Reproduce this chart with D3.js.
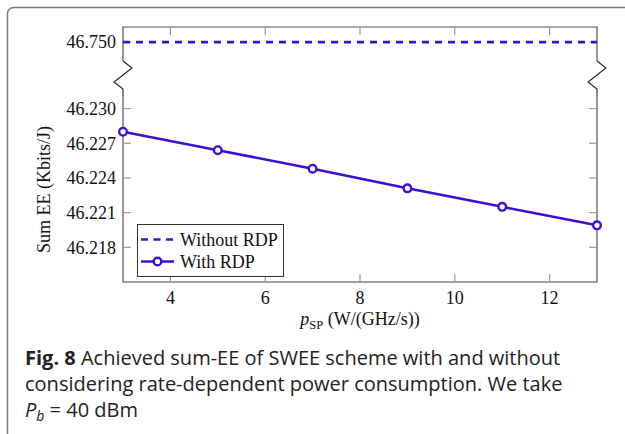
<!DOCTYPE html>
<html>
<head>
<meta charset="utf-8">
<script src="https://cdn.jsdelivr.net/npm/d3@7"></script>
<style>
  html, body { margin: 0; padding: 0; background: #fff; }
  svg { display: block; }
  .serif { font-family: "Liberation Serif", "Times New Roman", serif; font-size: 18px; fill: #111; }
  .cap { font-family: "Open Sans", "Noto Sans", sans-serif; font-size: 20px; fill: #222; }
</style>
</head>
<body>
<svg id="chart" width="625" height="434"></svg>
<script>
// p_SP values (W/(GHz/s))
const pSP = [3, 5, 7, 9, 11, 13];
// Sum EE (Kbits/J)
const withRDP = [46.2280, 46.2264, 46.2248, 46.2231, 46.2215, 46.2199];
const withoutRDP = [46.750, 46.750, 46.750, 46.750, 46.750, 46.750];
const seriesNames = ["Without RDP", "With RDP"];
const xTicks = [4, 6, 8, 10, 12];
const yTicksLower = [46.218, 46.221, 46.224, 46.227, 46.230];
const yTicksUpper = [46.750];
const captionLines = [
  "Achieved sum-EE of SWEE scheme with and without",
  "considering rate-dependent power consumption. We take"
];

const svg = d3.select("#chart");
const lineColor = "#3a10d4";
const axisColor = "#808080";

// Outer panel frame
svg.append("rect")
  .attr("x", 7.5).attr("y", 7.5)
  .attr("width", 700).attr("height", 500)
  .attr("rx", 6)
  .attr("fill", "none").attr("stroke", "#7a7a7a").attr("stroke-width", 1.5);

const left = 123, right = 597;
const upperTop = 27, upperBottom = 61;
const lowerTop = 97, lowerBottom = 282;

const x = d3.scaleLinear().domain([3, 13]).range([left, right]);
const yUp = d3.scaleLinear().domain([46.7485, 46.7512]).range([upperBottom, upperTop]);
const yLo = d3.scaleLinear().domain([46.215, 46.231]).range([lowerBottom, lowerTop]);

const tickLen = 8;

// Axis frames (broken y axis: small upper panel and main lower panel)
const frame = svg.append("g").attr("fill", "none");
frame.append("path")
  .attr("d", `M${left},${upperBottom}V${upperTop}H${right}V${upperBottom}`)
  .attr("stroke", "#555").attr("stroke-width", 1.2);
frame.append("path")
  .attr("d", `M${left},${lowerTop}V${lowerBottom}H${right}V${lowerTop}`)
  .attr("stroke", axisColor).attr("stroke-width", 1.6);

// Break marks joining the two panels
[left, right].forEach(px => {
  frame.append("path")
    .attr("d", `M${px},${upperBottom}L${px + 9},${upperBottom + 7}L${px - 9},${upperBottom + 21}L${px},${upperBottom + 28}V${lowerTop}`)
    .attr("stroke", "#222").attr("stroke-width", 1.1);
});

// x ticks: top of upper panel, bottom of lower panel
const ticks = svg.append("g").attr("stroke", "#999").attr("stroke-width", 1.2);
xTicks.forEach(t => {
  ticks.append("line").attr("x1", x(t)).attr("x2", x(t))
    .attr("y1", upperTop).attr("y2", upperTop + tickLen);
  ticks.append("line").attr("x1", x(t)).attr("x2", x(t))
    .attr("y1", lowerBottom).attr("y2", lowerBottom - tickLen);
});
// y ticks on both sides
yTicksLower.forEach(t => {
  ticks.append("line").attr("x1", left).attr("x2", left + tickLen)
    .attr("y1", yLo(t)).attr("y2", yLo(t));
  ticks.append("line").attr("x1", right).attr("x2", right - tickLen)
    .attr("y1", yLo(t)).attr("y2", yLo(t));
});
yTicksUpper.forEach(t => {
  ticks.append("line").attr("x1", left).attr("x2", left + tickLen)
    .attr("y1", yUp(t)).attr("y2", yUp(t));
  ticks.append("line").attr("x1", right).attr("x2", right - tickLen)
    .attr("y1", yUp(t)).attr("y2", yUp(t));
});

// Tick labels
const labels = svg.append("g");
const fmt = d3.format(".3f");
yTicksLower.forEach(t => {
  labels.append("text").attr("class", "serif").attr("x", left - 7).attr("y", yLo(t))
    .attr("dy", "0.35em").attr("text-anchor", "end").text(fmt(t));
});
yTicksUpper.forEach(t => {
  labels.append("text").attr("class", "serif").attr("x", left - 7).attr("y", yUp(t))
    .attr("dy", "0.35em").attr("text-anchor", "end").text(fmt(t));
});
xTicks.forEach(t => {
  labels.append("text").attr("class", "serif").attr("x", x(t)).attr("y", 304)
    .attr("text-anchor", "middle").text(String(t));
});

// Axis titles
const xTitle = svg.append("text").attr("class", "serif")
  .attr("x", (left + right) / 2).attr("y", 325)
  .attr("text-anchor", "middle");
xTitle.append("tspan").attr("font-style", "italic").text("p");
xTitle.append("tspan").style("font-size", "12.5px").attr("dy", 4).text("SP");
xTitle.append("tspan").attr("dy", -4).text(" (W/(GHz/s))");

svg.append("text").attr("class", "serif")
  .attr("transform", `translate(50,${(lowerTop + lowerBottom) / 2}) rotate(-90)`)
  .attr("text-anchor", "middle")
  .text("Sum EE (Kbits/J)");

// Series
const pts = pSP.map((p, i) => ({ p, lo: withRDP[i], up: withoutRDP[i] }));

svg.append("path")
  .datum(pts)
  .attr("fill", "none").attr("stroke", lineColor).attr("stroke-width", 2.6)
  .attr("stroke-dasharray", "7,6")
  .attr("d", d3.line().x(d => x(d.p)).y(d => yUp(d.up)));

svg.append("path")
  .datum(pts)
  .attr("fill", "none").attr("stroke", lineColor).attr("stroke-width", 2.6)
  .attr("d", d3.line().x(d => x(d.p)).y(d => yLo(d.lo)));

svg.append("g").selectAll("circle")
  .data(pts).join("circle")
  .attr("cx", d => x(d.p)).attr("cy", d => yLo(d.lo))
  .attr("r", 3.8)
  .attr("fill", "#fff").attr("stroke", lineColor).attr("stroke-width", 2.4);

// Legend
const lg = svg.append("g");
lg.append("rect")
  .attr("x", 137.5).attr("y", 224.5).attr("width", 146).attr("height", 52)
  .attr("fill", "#fff").attr("stroke", "#333").attr("stroke-width", 1);
lg.append("line")
  .attr("x1", 141).attr("x2", 174).attr("y1", 239.5).attr("y2", 239.5)
  .attr("stroke", lineColor).attr("stroke-width", 2.6).attr("stroke-dasharray", "7,5.5");
lg.append("line")
  .attr("x1", 141).attr("x2", 174).attr("y1", 261.5).attr("y2", 261.5)
  .attr("stroke", lineColor).attr("stroke-width", 2.6);
lg.append("circle")
  .attr("cx", 157.5).attr("cy", 261.5).attr("r", 3.8)
  .attr("fill", "#fff").attr("stroke", lineColor).attr("stroke-width", 2.4);
seriesNames.forEach((n, i) => {
  lg.append("text").attr("class", "serif")
    .attr("x", 180).attr("y", 239.5 + i * 22).attr("dy", "0.35em")
    .text(n);
});

// Caption
const cap = svg.append("g");
const l1 = cap.append("text").attr("class", "cap").attr("x", 25).attr("y", 365);
l1.append("tspan").attr("font-weight", "bold").text("Fig. 8");
l1.append("tspan").text(" " + captionLines[0]);
cap.append("text").attr("class", "cap").attr("x", 25).attr("y", 391).text(captionLines[1]);
const l3 = cap.append("text").attr("class", "cap").attr("x", 25).attr("y", 417);
l3.append("tspan").attr("font-style", "italic").text("P");
l3.append("tspan").attr("font-style", "italic").style("font-size", "14px").attr("dy", 4).text("b");
l3.append("tspan").attr("dy", -4).text(" = 40 dBm");
</script>
</body>
</html>
